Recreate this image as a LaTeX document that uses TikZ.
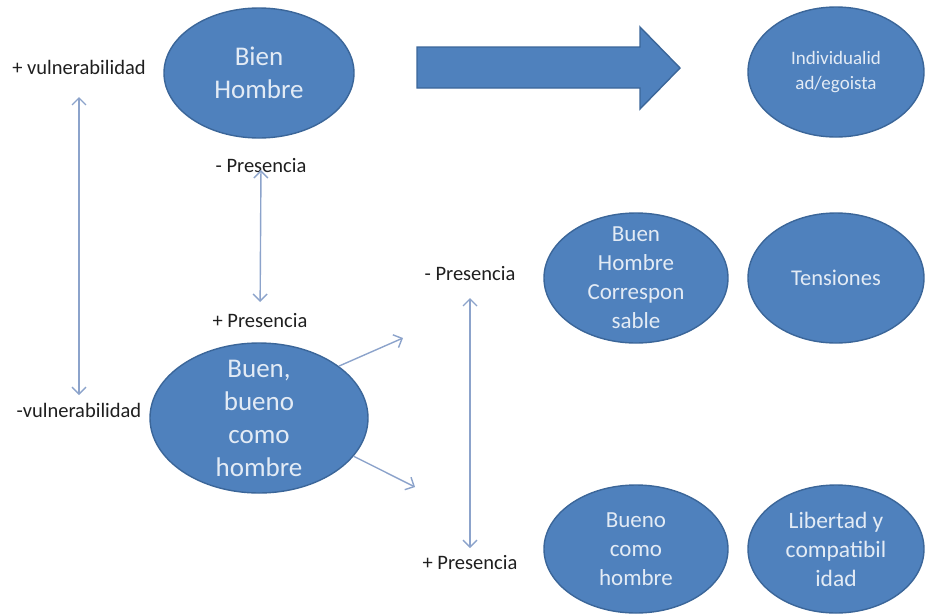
\documentclass[tikz,border=0pt]{standalone}
\usepackage{fontspec}
\setmainfont{Carlito}
\usetikzlibrary{shapes.geometric,arrows.meta}
\definecolor{ofill}{HTML}{4F81BD}
\definecolor{oline}{HTML}{3B6699}
\definecolor{otext}{HTML}{E3EBF5}
\definecolor{connc}{HTML}{8CA3CB}
\begin{document}
\begin{tikzpicture}[x=1pt,y=-1pt,
  oval/.style={ellipse, fill=ofill, draw=oline, line width=1.4pt, inner sep=0pt},
  ovaltxt/.style={text=otext, align=center, inner sep=0pt},
  lbl/.style={text=black!88, inner sep=0pt, font=\fontsize{20.5}{24}\selectfont},
  conn/.style={draw=connc, line width=1.4pt, -{Straight Barb[length=7pt,width=14pt]}},
  dbl/.style={draw=connc, line width=1.4pt, {Straight Barb[length=7pt,width=14pt]}-{Straight Barb[length=7pt,width=14pt]}},
  ]
\useasboundingbox (0,0) rectangle (935,614);

% ovals
\node[oval, minimum width=190pt, minimum height=130pt] (b1) at (259,73) {};
\node[ovaltxt, font=\fontsize{27}{33}\selectfont] (b1t) at (b1) {Bien\\Hombre};

\node[oval, minimum width=218pt, minimum height=150pt] (b2) at (259,418) {};
\node[ovaltxt, font=\fontsize{27}{33}\selectfont] (b2t) at (b2) {Buen,\\bueno\\como\\hombre};

\node[oval, minimum width=176pt, minimum height=130pt] (ind) at (836,72) {};
\node[ovaltxt, font=\fontsize{19}{25}\selectfont] (indt) at (ind) {Individualid\\ad/egoista};

\node[oval, minimum width=184pt, minimum height=130pt] (corr) at (636,278) {};
\node[ovaltxt, font=\fontsize{23}{29}\selectfont] (corrt) at (corr) {Buen\\Hombre\\Correspon\\sable};

\node[oval, minimum width=176pt, minimum height=130pt] (tens) at (836,278) {};
\node[ovaltxt, font=\fontsize{22.5}{28}\selectfont] (tenst) at (tens) {Tensiones};

\node[oval, minimum width=184pt, minimum height=128pt] (bch) at (636,549) {};
\node[ovaltxt, font=\fontsize{23}{29}\selectfont] (bcht) at (bch) {Bueno\\como\\hombre};

\node[oval, minimum width=176pt, minimum height=128pt] (lib) at (836,549) {};
\node[ovaltxt, font=\fontsize{23.5}{29}\selectfont] (libt) at (lib) {Libertad y\\compatibil\\idad};

% big block arrow
\draw[fill=ofill, draw=oline, line width=1.4pt]
  (417,47) -- (640,47) -- (640,27) -- (680,68) -- (640,109) -- (640,88) -- (417,88) -- cycle;

% labels
\node[lbl] (vp) at (79,67) {+ vulnerabilidad};
\node[lbl] (vm) at (79,410) {-vulnerabilidad};
\node[lbl] (pt1) at (261,166) {- Presencia};
\node[lbl] (pb1) at (260,321) {+ Presencia};
\node[lbl] (pt2) at (470,274) {- Presencia};
\node[lbl] (pb2) at (470,563) {+ Presencia};

\coordinate (c1) at (403,338);
\coordinate (c2) at (415,487);

% connectors
\draw[dbl, shorten <=30pt, shorten >=15pt] (vp.center) -- (vm.center);
\draw[dbl, shorten <=4pt, shorten >=19pt] (pt1.center) -- (pb1.center);
\draw[dbl, shorten <=24pt, shorten >=15pt] (pt2.center) -- (pb2.center);
\draw[conn] (b2.33) -- (c1);
\draw[conn] (b2.-22) -- (c2);
\end{tikzpicture}
\end{document}
